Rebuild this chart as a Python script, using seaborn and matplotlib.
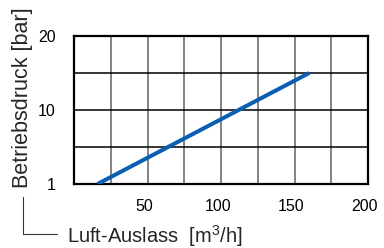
import numpy as np
import matplotlib
matplotlib.use("Agg")
import matplotlib.pyplot as plt
import matplotlib.transforms as mtransforms
from matplotlib.lines import Line2D
import seaborn as sns

# data
flow = [16, 160]          # Luft-Auslass [m3/h]
pressure = [1, 15]        # Betriebsdruck [bar]
x_major = [50, 100, 150, 200]
x_minor = [25, 75, 125, 175]
y_major = [1, 10, 20]
y_labels = ["1", "10", "20"]
y_minor = [10 ** 0.5, 15]

sns.set_style("white")
plt.rcParams["font.family"] = ["Liberation Sans", "DejaVu Sans"]
plt.rcParams["mathtext.fontset"] = "custom"
plt.rcParams["mathtext.rm"] = "Liberation Sans"

def fwd(v):
    v = np.asarray(v, dtype=float)
    with np.errstate(all="ignore"):
        lo = np.log10(np.clip(v, 1e-9, None))
        hi = 1 + (v - 10) / 10
    return np.where(v <= 10, lo, hi)

def inv(p):
    p = np.asarray(p, dtype=float)
    with np.errstate(all="ignore"):
        lo = 10 ** np.clip(p, -50, 50)
        hi = 10 + (p - 1) * 10
    return np.where(p <= 1, lo, hi)

fig = plt.figure(figsize=(3.84, 2.48), dpi=100)
ax = fig.add_axes([74 / 384, 1 - 184 / 248, 294 / 384, 148 / 248])
ax.set_yscale("function", functions=(fwd, inv))
ax.set_xlim(0, 200)
ax.set_ylim(1, 20)

sns.lineplot(x=flow, y=pressure, ax=ax, color="#0b5fb3", lw=2.9,
             solid_capstyle="butt", zorder=5)

ax.set_xticks(x_major)
ax.set_xticks(x_minor, minor=True)
ax.set_xticklabels([str(v) for v in x_major])
ax.set_yticks(y_major)
ax.set_yticklabels(y_labels)
ax.set_yticks(y_minor, minor=True)
ax.yaxis.set_minor_formatter(matplotlib.ticker.NullFormatter())

ax.grid(True, axis="x", which="both", color="#606060", lw=1.1)
ax.grid(True, axis="y", which="both", color="black", lw=1.1)
ax.tick_params(axis="both", which="both", length=0, labelsize=11.5, colors="black")
ax.tick_params(axis="x", pad=10.5)
ax.tick_params(axis="y", pad=13)

for lab in ax.get_xticklabels():
    lab.set_transform(lab.get_transform() + mtransforms.ScaledTranslation(-3 / 100, 0, fig.dpi_scale_trans))

for s in ax.spines.values():
    s.set_visible(True)
    s.set_color("black")
    s.set_linewidth(1.6)

fig.text(23 / 384, 1 - 98 / 248, "Betriebsdruck [bar]", rotation=90,
         ha="center", va="center", fontsize=15.5)
fig.text(67 / 384, 1 - 243 / 248, "Luft-Auslass  [m$^\\mathregular{3}$/h]",
         ha="left", va="baseline", fontsize=14.5)

fig.add_artist(Line2D([22.7 / 384, 22.7 / 384, 57 / 384],
                      [1 - 197 / 248, 1 - 234 / 248, 1 - 234 / 248],
                      transform=fig.transFigure, color="#333333", lw=0.8))

fig.savefig("out.png", dpi=100)
